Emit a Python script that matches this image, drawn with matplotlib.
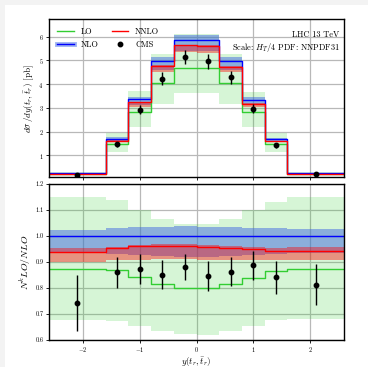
import numpy as np
from matplotlib import pyplot as plt
from matplotlib.lines import Line2D
from matplotlib.patches import Rectangle

plt.rcParams['font.family'] = 'serif'
plt.rcParams['font.serif'] = ['cmr10', 'DejaVu Serif']
plt.rcParams['mathtext.fontset'] = 'cm'
plt.rcParams['axes.formatter.use_mathtext'] = True

# bin edges in y(t_r, tbar_r) and data point positions
edges = [-2.6, -1.6, -1.2, -0.8, -0.4, 0.0, 0.4, 0.8, 1.2, 1.6, 2.6]
x_cms = [-2.1, -1.4, -1.0, -0.6, -0.2, 0.2, 0.6, 1.0, 1.4, 2.1]

# NLO cross section per bin [pb]
nlo = [0.24, 1.70, 3.36, 4.97, 5.86, 5.86, 4.97, 3.35, 1.70, 0.24]

# ratios to NLO
lo_r = [0.871, 0.867, 0.842, 0.813, 0.798, 0.798, 0.813, 0.838, 0.865, 0.872]
nnlo_r = [0.938, 0.951, 0.960, 0.960, 0.961, 0.955, 0.951, 0.950, 0.940, 0.940]
cms_r = [0.742, 0.859, 0.871, 0.850, 0.881, 0.846, 0.862, 0.886, 0.840, 0.812]
cms_err = [0.107, 0.058, 0.057, 0.055, 0.050, 0.057, 0.057, 0.056, 0.062, 0.080]

# scale uncertainty bands (ratio to NLO)
lo_up = [1.148, 1.137, 1.099, 1.064, 1.046, 1.044, 1.064, 1.100, 1.130, 1.148]
lo_dn = [0.677, 0.672, 0.654, 0.633, 0.621, 0.620, 0.633, 0.655, 0.677, 0.680]
nlo_up = [1.022, 1.031, 1.032, 1.035, 1.036, 1.035, 1.032, 1.031, 1.028, 1.027]
nlo_dn = [0.932, 0.930, 0.925, 0.922, 0.920, 0.920, 0.922, 0.925, 0.930, 0.932]
nnlo_up = [0.951, 0.958, 0.965, 0.967, 0.968, 0.963, 0.960, 0.958, 0.953, 0.955]
nnlo_dn = [0.900, 0.905, 0.908, 0.910, 0.911, 0.906, 0.908, 0.908, 0.906, 0.908]


def stepvals(v):
    v = list(v)
    return np.array(v + [v[-1]])


fig = plt.figure(figsize=(3.68, 3.67), dpi=100)
fig.patch.set_facecolor('#f3f3f3')
fig.patches.append(Rectangle((5 / 368, 0), 1, 1 - 5 / 367, transform=fig.transFigure,
                             facecolor='white', edgecolor='none', zorder=-10))

ax1 = fig.add_axes([0.133, 0.517, 0.802, 0.430])
ax2 = fig.add_axes([0.133, 0.074, 0.802, 0.4255])

nlo_a = np.array(nlo)
series = [
    ('LO', lo_r, lo_up, lo_dn, 'limegreen', 'limegreen', 0.2),
    ('NLO', np.ones(len(nlo)), nlo_up, nlo_dn, 'blue', 'royalblue', 0.5),
    ('NNLO', nnlo_r, nnlo_up, nnlo_dn, 'red', 'red', 0.4),
]

for ax, scale in [(ax1, nlo_a), (ax2, np.ones(len(nlo)))]:
    for name, r, up, dn, lc, bc, al in series:
        ax.fill_between(edges, stepvals(np.array(dn) * scale), stepvals(np.array(up) * scale),
                        step='post', color=bc, alpha=al, linewidth=0)
    for name, r, up, dn, lc, bc, al in series:
        ax.step(edges, stepvals(np.array(r) * scale), where='post', color=lc, lw=1.0)
    ax.grid(True, color='#b8b8b8', lw=0.9)
    ax.set_axisbelow(True)
    ax.set_xlim(-2.6, 2.6)
    ax.set_xticks([-2, -1, 0, 1, 2])
    ax.tick_params(labelsize=4.5, length=2.5, width=0.6, pad=1.5)
    for s in ax.spines.values():
        s.set_linewidth(1.0)

cms_top = np.array(cms_r) * nlo_a
ax1.errorbar(x_cms, cms_top, yerr=np.array(cms_err) * nlo_a, fmt='o', color='black',
             ms=3.2, elinewidth=1.0, capsize=0)
ax2.errorbar(x_cms, cms_r, yerr=cms_err, fmt='o', color='black', ms=3.2,
             elinewidth=1.0, capsize=0)

ax1.set_ylim(0.07, 6.73)
ax1.set_yticks([1, 2, 3, 4, 5, 6])
ax1.tick_params(labelbottom=False)
ax1.set_ylabel(r'$d\sigma\,/dy(t_r,\bar{t}_r)$ [pb]', fontsize=6.5, labelpad=1.5)

ax2.set_ylim(0.6, 1.2)
ax2.set_yticks([0.6, 0.7, 0.8, 0.9, 1.0, 1.1, 1.2])
ax2.set_yticklabels(['0.6', '0.7', '0.8', '0.9', '1.0', '1.1', '1.2'])
ax2.set_ylabel(r'$N^kLO/NLO$', fontsize=7, labelpad=1.5)
ax2.set_xlabel(r'$y(t_r,\bar{t}_r)$', fontsize=6.5, labelpad=0.5)

ax1.text(0.985, 0.9, 'LHC 13 TeV', transform=ax1.transAxes, ha='right', va='center', fontsize=6)
ax1.text(0.985, 0.82, r'Scale: $H_T/4$ PDF: NNPDF31', transform=ax1.transAxes,
         ha='right', va='center', fontsize=6)

h_lo = Line2D([], [], color='limegreen', lw=1.0)
h_nlo = (Line2D([], [], color='royalblue', lw=3.5, alpha=0.5), Line2D([], [], color='blue', lw=1.0))
h_nnlo = Line2D([], [], color='red', lw=1.0)
h_cms = Line2D([], [], color='black', marker='o', ms=3.2, ls='none')
ax1.legend([h_lo, h_nlo, h_nnlo, h_cms], ['LO', 'NLO', 'NNLO', 'CMS'], loc='upper left',
           ncol=2, fontsize=6, frameon=False, handlelength=2.0, columnspacing=1.6,
           borderaxespad=0.6, labelspacing=0.55)

fig.savefig('out.png', dpi=100, facecolor=fig.get_facecolor())
